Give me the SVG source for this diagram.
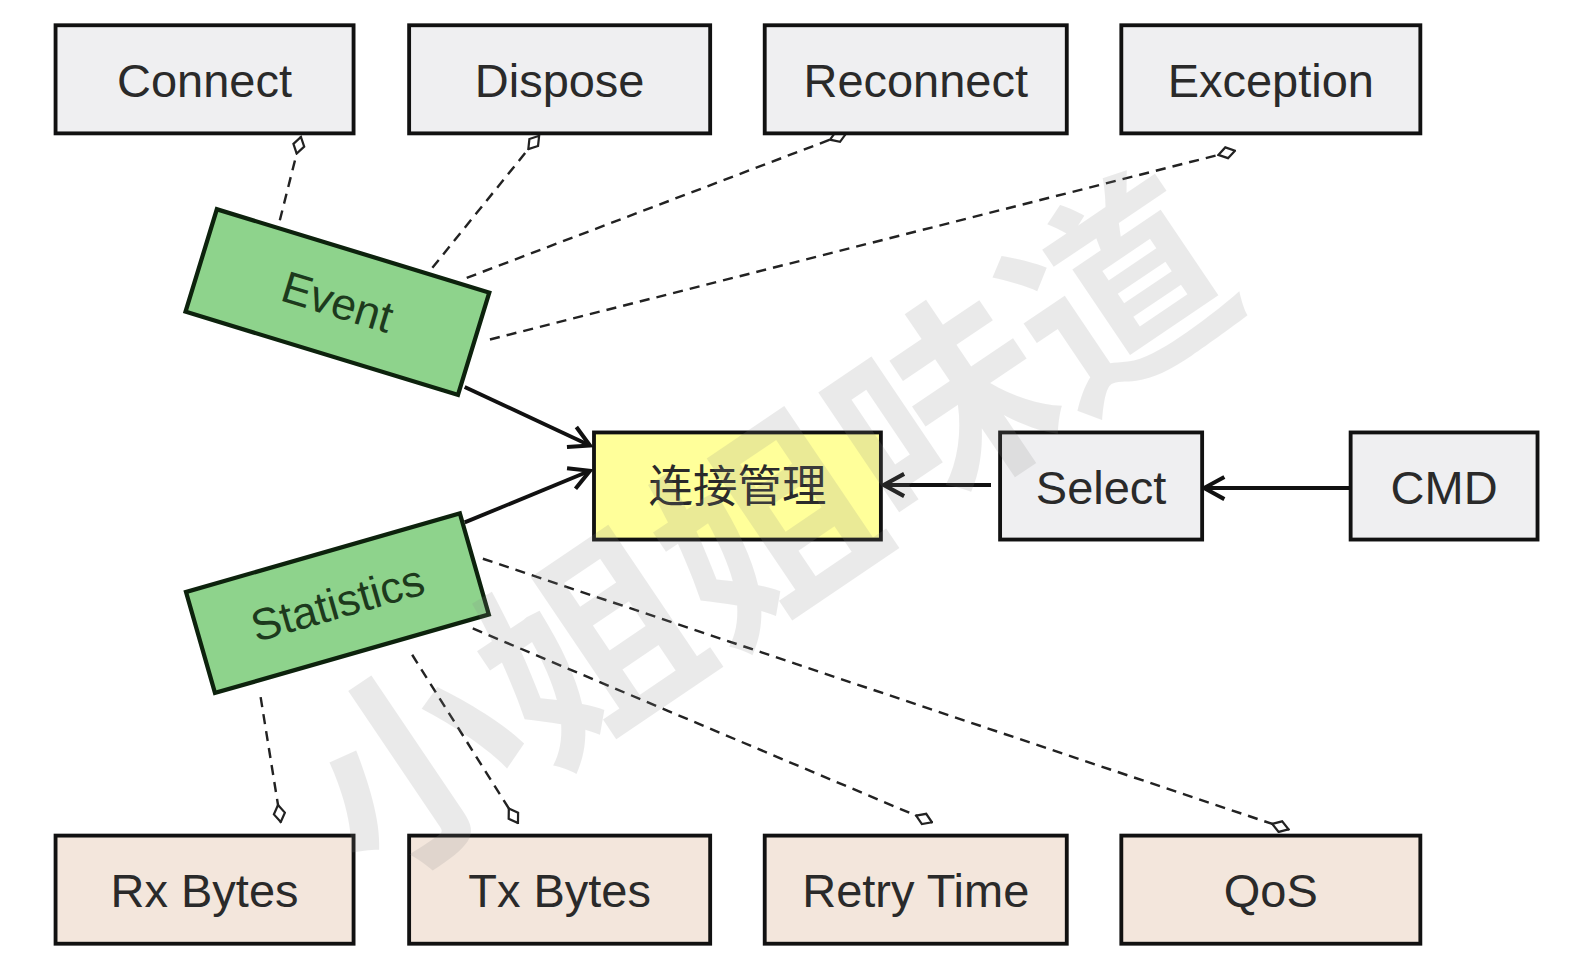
<svg xmlns="http://www.w3.org/2000/svg" width="1584" height="972" viewBox="0 0 1584 972">
<defs>
<style>
.box{stroke:#111;stroke-width:3.8}
.top{fill:#efeff1}
.bot{fill:#f3e6dc}
.grn{fill:#8ed38c;stroke:#0d220d;stroke-width:4.2}
.yel{fill:#ffff9a}
.lbl{font-family:"Liberation Sans",Arial,sans-serif;font-size:46.5px;fill:#2a2a2a;text-anchor:middle}
.glbl{font-family:"Liberation Sans",Arial,sans-serif;font-size:44px;fill:#1d3a1d;text-anchor:middle}
.cjk{font-family:"Liberation Sans","Noto Sans CJK SC",sans-serif;font-size:44px;fill:#2a2a2a;text-anchor:middle}
.dash{fill:none;stroke:#222;stroke-width:2.4;stroke-dasharray:10 7;marker-end:url(#dia)}
.arr{fill:none;stroke:#111;stroke-width:3.8;marker-end:url(#arw)}
.wm{font-family:"Noto Sans CJK SC",sans-serif;font-weight:bold;font-size:210px;fill:#888;opacity:0.17}
</style>
<marker id="dia" viewBox="0 0 20 14" refX="19" refY="7" markerWidth="20" markerHeight="14" markerUnits="userSpaceOnUse" orient="auto">
<path d="M1.5,7 L10,1.5 L18.5,7 L10,12.5 Z" fill="#fff" stroke="#222" stroke-width="2.2"/>
</marker>
<marker id="arw" viewBox="0 0 28 28" refX="24" refY="14" markerWidth="28" markerHeight="28" markerUnits="userSpaceOnUse" orient="auto">
<path d="M4,3 L24,14 L4,25" fill="none" stroke="#111" stroke-width="4" stroke-linejoin="miter"/>
</marker>
</defs>
<rect width="1584" height="972" fill="#fff"/>
<g transform="scale(1.0102,1.0104)">
<g id="connectors">
<path class="dash" d="M277,218 L298,135"/>
<path class="dash" d="M428,265 L534,134"/>
<path class="dash" d="M462,275 L838,132"/>
<path class="dash" d="M485,336 L1223,149"/>
<path class="dash" d="M258,690 L278,814"/>
<path class="dash" d="M408,648 L513,815"/>
<path class="dash" d="M468,622 L923,814"/>
<path class="dash" d="M478,553 L1276,821"/>
<path class="arr" d="M460,383 L584,441"/>
<path class="arr" d="M460,517 L584,466"/>
<path class="arr" d="M981,480 L875,480"/>
<path class="arr" d="M1336,483 L1192,483"/>
</g>
<g id="connect"><rect class="box top" x="55" y="25" width="295" height="107"/><text class="lbl" x="202.5" y="96">Connect</text></g>
<g id="dispose"><rect class="box top" x="405" y="25" width="298" height="107"/><text class="lbl" x="554" y="96">Dispose</text></g>
<g id="reconnect"><rect class="box top" x="757" y="25" width="299" height="107"/><text class="lbl" x="906.5" y="96">Reconnect</text></g>
<g id="exception"><rect class="box top" x="1110" y="25" width="296" height="107"/><text class="lbl" x="1258" y="96">Exception</text></g>
<g id="rxbytes"><rect class="box bot" x="55" y="827" width="295" height="107"/><text class="lbl" x="202.5" y="898">Rx Bytes</text></g>
<g id="txbytes"><rect class="box bot" x="405" y="827" width="298" height="107"/><text class="lbl" x="554" y="898">Tx Bytes</text></g>
<g id="retrytime"><rect class="box bot" x="757" y="827" width="299" height="107"/><text class="lbl" x="906.5" y="898">Retry Time</text></g>
<g id="qos"><rect class="box bot" x="1110" y="827" width="296" height="107"/><text class="lbl" x="1258" y="898">QoS</text></g>
<g id="manager"><rect class="box yel" x="588" y="428" width="284" height="106"/><text class="cjk" x="730" y="497">连接管理</text></g>
<g id="select"><rect class="box top" x="990" y="428" width="200" height="106"/><text class="lbl" x="1090" y="499">Select</text></g>
<g id="cmd"><rect class="box top" x="1337" y="428" width="185" height="106"/><text class="lbl" x="1429.5" y="499">CMD</text></g>
<g id="event" transform="translate(334,299) rotate(17)"><rect class="box grn" x="-141" y="-53" width="282" height="106"/><text class="glbl" x="0" y="15">Event</text></g>
<g id="statistics" transform="translate(334,597) rotate(-16)"><rect class="box grn" x="-141" y="-52" width="282" height="104"/><text class="glbl" x="0" y="15">Statistics</text></g>
<text class="wm" transform="translate(760,525) rotate(-34)" text-anchor="middle" x="0" y="75">小姐姐味道</text>
</g>
</svg>
